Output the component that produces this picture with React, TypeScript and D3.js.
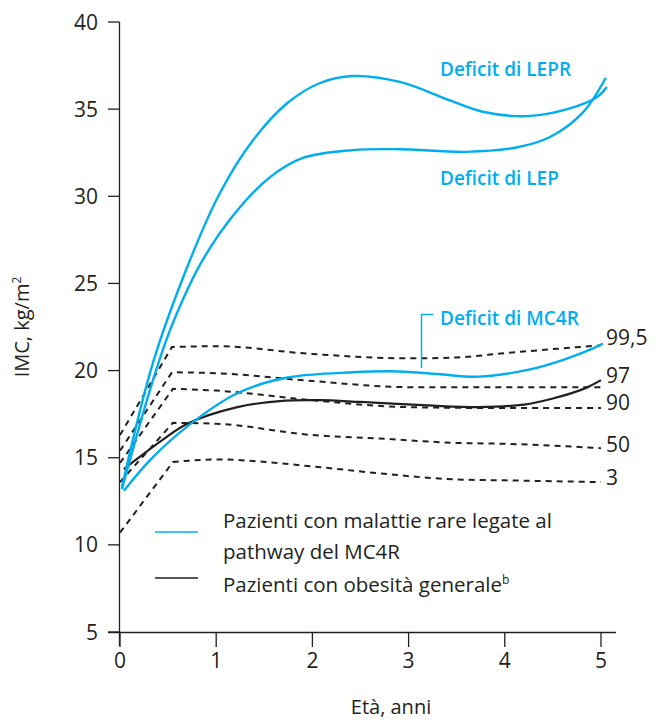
import React from "react";
import * as d3 from "d3";

const xTicks = [0, 1, 2, 3, 4, 5];
const yTicks = [5, 10, 15, 20, 25, 30, 35, 40];

// percentile reference curves [age, BMI]
const pct995: [number, number][] = [[0, 16.3], [0.54, 21.35], [1, 21.4], [2, 20.95], [3, 20.7], [3.5, 20.75], [4, 21.0], [5, 21.45]];
const pct97: [number, number][] = [[0, 15.4], [0.54, 19.9], [1, 19.85], [2, 19.4], [3, 19.05], [4, 19.05], [5, 19.05]];
const pct90: [number, number][] = [[0, 14.7], [0.55, 18.95], [1, 18.85], [2, 18.3], [3, 17.9], [4, 17.85], [5, 17.85]];
const pct50: [number, number][] = [[0, 13.6], [0.55, 17.0], [1, 16.95], [2, 16.3], [2.7, 16.1], [3.5, 15.85], [4, 15.8], [5, 15.55]];
const pct3: [number, number][] = [[0, 10.7], [0.55, 14.75], [1, 14.9], [2, 14.5], [2.7, 14.1], [3.5, 13.75], [4, 13.7], [5, 13.6]];
const pctLabels = ["99,5", "97", "90", "50", "3"];
const pctLabelY = [21.9, 19.7, 18.15, 15.75, 13.85];

const lepr: [number, number][] = [[0.02, 13.3], [0.34, 20.4], [0.7, 25.96], [1.04, 30.2], [1.38, 33.2], [1.74, 35.35], [2.08, 36.5], [2.42, 36.9], [2.91, 36.56], [3.43, 35.5], [3.77, 34.85], [4.23, 34.6], [4.65, 35.0], [4.96, 35.7], [5.06, 36.27]];
const lep: [number, number][] = [[0.02, 13.2], [0.34, 19.4], [0.54, 22.6], [0.86, 26.35], [1.22, 29.2], [1.56, 31.1], [1.9, 32.2], [2.42, 32.65], [2.91, 32.7], [3.6, 32.55], [4.12, 32.8], [4.47, 33.4], [4.81, 34.8], [5.05, 36.8]];
const mc4r: [number, number][] = [[0.04, 13.1], [0.31, 14.85], [0.7, 16.8], [1.22, 18.7], [1.74, 19.6], [2.42, 19.9], [2.9, 19.95], [3.3, 19.8], [3.73, 19.65], [4.25, 20.05], [4.6, 20.6], [4.93, 21.3], [5.02, 21.55]];
const general: [number, number][] = [[0.04, 14.35], [0.17, 14.9], [0.45, 16.05], [0.7, 16.95], [1.22, 17.9], [1.66, 18.25], [2.08, 18.3], [2.5, 18.2], [3.2, 18.0], [3.73, 17.9], [4.2, 18.05], [4.5, 18.4], [4.82, 18.95], [5.0, 19.45]];

const BLUE = "#00AEEF";
const INK = "#231F20";
const FONT = "'Open Sans', 'Noto Sans', sans-serif";

export default function App() {
  const x = d3.scaleLinear().domain([0, 5]).range([120, 601]);
  const y = d3.scaleLinear().domain([5, 40]).range([632, 22]);

  const smooth = d3.line<[number, number]>().x(d => x(d[0])).y(d => y(d[1])).curve(d3.curveCatmullRom.alpha(0.5));
  const mono = d3.line<[number, number]>().x(d => x(d[0])).y(d => y(d[1])).curve(d3.curveMonotoneX);
  const pctPath = (pts: [number, number][]) => {
    const rest = mono(pts.slice(1)) || "";
    return `M${x(pts[0][0])},${y(pts[0][1])}L` + rest.substring(1);
  };
  const pcts = [pct995, pct97, pct90, pct50, pct3];

  return (
    <svg width={656} height={723} style={{ display: "block", margin: "-8px 0 0 -8px" }} fontFamily={FONT}>
      {/* axes */}
      <line x1={119.5} x2={119.5} y1={22} y2={646} stroke={INK} strokeWidth={1.3} />
      <line x1={108} x2={616} y1={632.5} y2={632.5} stroke={INK} strokeWidth={1.3} />
      {yTicks.map(t => (
        <g key={"y" + t}>
          <line x1={108} x2={119.5} y1={y(t)} y2={y(t)} stroke={INK} strokeWidth={1.3} />
          <text x={98} y={y(t) + 7.5} textAnchor="end" fontSize={21} fill={INK}>{t}</text>
        </g>
      ))}
      {xTicks.map(t => (
        <g key={"x" + t}>
          <line x1={x(t)} x2={x(t)} y1={632} y2={647} stroke={INK} strokeWidth={1.3} />
          <text x={x(t)} y={668} textAnchor="middle" fontSize={21} fill={INK}>{t}</text>
        </g>
      ))}
      <text x={391} y={714} textAnchor="middle" fontSize={20} fill={INK}>Età, anni</text>
      <text transform="translate(29,327) rotate(-90)" textAnchor="middle" fontSize={20} fill={INK}>
        IMC, kg/m<tspan fontSize={12} dy={-8}>2</tspan>
      </text>

      {/* percentile curves */}
      {pcts.map((p, i) => (
        <path key={"p" + i} d={pctPath(p)} fill="none" stroke={INK} strokeWidth={2} strokeDasharray="6 5" />
      ))}
      {pctLabels.map((l, i) => (
        <text key={"l" + i} x={606} y={y(pctLabelY[i]) + 7.5} fontSize={21} fill={INK}>{l}</text>
      ))}

      {/* patient curves */}
      <path d={smooth(general) || ""} fill="none" stroke={INK} strokeWidth={2.2} />
      <path d={smooth(mc4r) || ""} fill="none" stroke={BLUE} strokeWidth={2.4} />
      <path d={smooth(lep) || ""} fill="none" stroke={BLUE} strokeWidth={2.4} />
      <path d={smooth(lepr) || ""} fill="none" stroke={BLUE} strokeWidth={2.4} />

      {/* annotations */}
      <text x={440} y={76} fontSize={19} fontWeight={600} fill={BLUE}>Deficit di LEPR</text>
      <text x={440} y={185} fontSize={19} fontWeight={600} fill={BLUE}>Deficit di LEP</text>
      <text x={440} y={325} fontSize={19} fontWeight={600} fill={BLUE}>Deficit di MC4R</text>
      <path d="M433,314.5H421.5V368" fill="none" stroke={BLUE} strokeWidth={1.5} />

      {/* legend */}
      <line x1={155} x2={198} y1={532} y2={532} stroke={BLUE} strokeWidth={1.6} />
      <line x1={155} x2={198} y1={578} y2={578} stroke={INK} strokeWidth={1.6} />
      <text x={223} y={528} fontSize={20.5} fill={INK}>Pazienti con malattie rare legate al</text>
      <text x={223} y={559} fontSize={20.5} fill={INK}>pathway del MC4R</text>
      <text x={223} y={592} fontSize={20.5} fill={INK}>
        Pazienti con obesità generale<tspan fontSize={12} dy={-8}>b</tspan>
      </text>
    </svg>
  );
}
